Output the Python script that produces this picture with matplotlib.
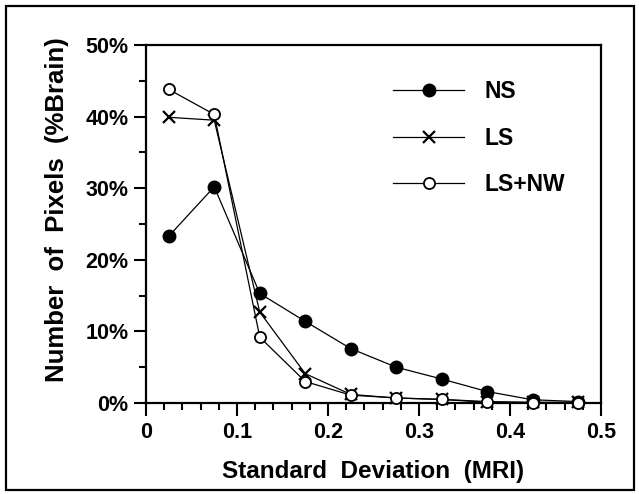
import numpy as np
import matplotlib
matplotlib.use("Agg")
import matplotlib.pyplot as plt
from matplotlib.patches import Rectangle
from matplotlib.ticker import MultipleLocator, FuncFormatter

plt.rcParams['font.family'] = ['Liberation Sans', 'DejaVu Sans']
plt.rcParams['font.weight'] = 'bold'

# bin centres of the standard deviation histogram
sd_bins = [0.025, 0.075, 0.125, 0.175, 0.225, 0.275, 0.325, 0.375, 0.425, 0.475]

# percent of brain pixels per bin
ns = [23.3, 30.2, 15.3, 11.4, 7.6, 5.0, 3.35, 1.6, 0.45, 0.2]
ls = [39.9, 39.5, 12.7, 4.1, 1.2, 0.7, 0.5, 0.2, 0.1, 0.1]
ls_nw = [43.8, 40.3, 9.2, 3.0, 1.1, 0.7, 0.5, 0.1, 0.05, 0.05]

series_labels = ['NS', 'LS', 'LS+NW']

fig = plt.figure(figsize=(6.39, 4.94), dpi=100)
ax = fig.add_axes([0.2285, 0.1842, 0.712, 0.7247])

# border round the whole figure
fig.patches.append(Rectangle((0.0094, 0.0081), 0.9828, 0.980, transform=fig.transFigure,
                             fill=False, lw=1.6, ec='black'))

ax.plot(sd_bins, ns, '-o', color='black', lw=0.9, ms=9, mfc='black',
        label=series_labels[0], clip_on=False, zorder=3)
ax.plot(sd_bins, ls, '-x', color='black', lw=0.9, ms=9, mew=1.6,
        label=series_labels[1], clip_on=False, zorder=3)
ax.plot(sd_bins, ls_nw, '-o', color='black', lw=0.9, ms=8, mfc='white', mew=1.3,
        label=series_labels[2], clip_on=False, zorder=4)

ax.set_xlim(0, 0.5)
ax.set_ylim(0, 50)
ax.xaxis.set_major_locator(MultipleLocator(0.1))
ax.xaxis.set_minor_locator(MultipleLocator(0.02))
ax.yaxis.set_major_locator(MultipleLocator(10))
ax.yaxis.set_minor_locator(MultipleLocator(5))
ax.xaxis.set_major_formatter(FuncFormatter(lambda v, p: '0' if abs(v) < 1e-9 else '%g' % v))
ax.yaxis.set_major_formatter(FuncFormatter(lambda v, p: '%d%%' % round(v)))

for s in ax.spines.values():
    s.set_linewidth(1.6)
ax.tick_params(which='major', direction='out', length=9, width=1.5, labelsize=15.5)
ax.tick_params(axis='x', which='major', pad=5)
ax.tick_params(axis='y', which='major', pad=3.5)
ax.tick_params(which='minor', direction='out', length=5, width=1.5)
for lab in ax.get_xticklabels() + ax.get_yticklabels():
    lab.set_fontweight('bold')

ax.set_xlabel('Standard  Deviation  (MRI)', fontsize=17.5, fontweight='bold', labelpad=12)
ax.set_ylabel('Number  of  Pixels  (%Brain)', fontsize=18.5, fontweight='bold')
ax.yaxis.set_label_coords(-0.17, 0.54)

ax.legend(loc='upper left', bbox_to_anchor=(0.543, 0.902), frameon=False,
          handlelength=3.1, handletextpad=0.9, labelspacing=1.03,
          borderpad=0, borderaxespad=0, prop={'size': 16.5, 'weight': 'bold'})

fig.savefig('out.png', dpi=100)
